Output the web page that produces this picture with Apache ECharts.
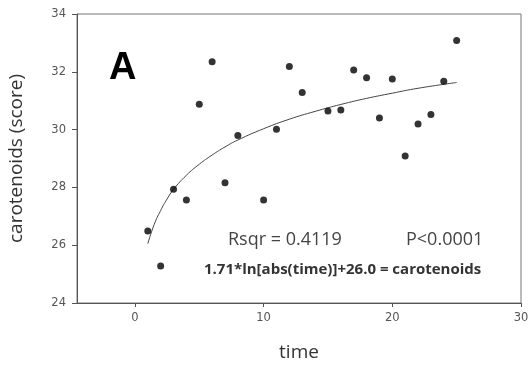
<!DOCTYPE html>
<html>
<head>
<meta charset="utf-8">
<script src="https://cdn.jsdelivr.net/npm/echarts@6/dist/echarts.min.js"></script>
<style>html,body{margin:0;padding:0;background:#fff}#c{width:529px;height:369px}</style>
</head>
<body>
<div id="c"></div>
<script>
// observed data
var times = [1, 2, 3, 4, 5, 6, 7, 8, 10, 11, 12, 13, 15, 16, 17, 18, 19, 20, 21, 22, 23, 24, 25];
var carotenoids = [26.49, 25.28, 27.94, 27.56, 30.88, 32.35, 28.16, 29.80, 27.56, 30.01, 32.18, 31.28, 30.64, 30.68, 32.06, 31.79, 30.40, 31.75, 29.09, 30.19, 30.52, 31.67, 33.08];
// fitted curve
var fitTimes = [1, 1.5, 2, 2.5, 3, 4, 5, 6, 7, 8, 10, 12, 14, 16, 18, 20, 22, 25];
var fitValues = [26.05, 26.72, 27.2, 27.6, 27.93, 28.42, 28.8, 29.12, 29.4, 29.64, 30.03, 30.36, 30.63, 30.87, 31.08, 31.26, 31.43, 31.63];
var xTicks = [0, 10, 20, 30];
var yTicks = [24, 26, 28, 30, 32, 34];

var chart = echarts.init(document.getElementById('c'));
var tickFont = {color: '#555', fontSize: 11.5, fontFamily: 'DejaVu Sans'};
chart.setOption({
  animation: false,
  grid: {left: 77, top: 14, right: 8, bottom: 66, containLabel: false, outerBoundsMode: 'none', show: true, borderColor: '#777', borderWidth: 1},
  xAxis: {
    type: 'value', min: -4.5, max: 30,
    name: 'time', nameLocation: 'middle', nameGap: 40,
    nameTextStyle: {fontSize: 19, color: '#333', fontFamily: 'Open Sans'},
    axisLine: {show: true, onZero: false, lineStyle: {color: '#555'}},
    axisTick: {show: true, length: 4, customValues: xTicks, lineStyle: {color: '#555'}},
    axisLabel: {customValues: xTicks, margin: 9, color: tickFont.color, fontSize: tickFont.fontSize, fontFamily: tickFont.fontFamily},
    splitLine: {show: false}
  },
  yAxis: {
    type: 'value', min: 24, max: 34, interval: 2,
    name: 'carotenoids (score)', nameLocation: 'middle', nameGap: 51,
    nameTextStyle: {fontSize: 19, color: '#333', fontFamily: 'Open Sans'},
    axisLine: {show: true, onZero: false, lineStyle: {color: '#555'}},
    axisTick: {show: true, length: 5, lineStyle: {color: '#555'}},
    axisLabel: {margin: 11, color: tickFont.color, fontSize: tickFont.fontSize, fontFamily: tickFont.fontFamily},
    splitLine: {show: false}
  },
  series: [
    {
      type: 'line', data: fitTimes.map(function (t, i) { return [t, fitValues[i]]; }),
      smooth: true, showSymbol: false, symbol: 'none',
      lineStyle: {color: '#444', width: 1}, z: 2
    },
    {
      type: 'scatter', data: times.map(function (t, i) { return [t, carotenoids[i]]; }),
      symbol: 'circle', symbolSize: 7, itemStyle: {color: '#000'}, z: 3
    }
  ],
  graphic: [
    {type: 'text', left: 109, top: 50, style: {text: 'A', fontSize: 38, fontWeight: 'bold', fontFamily: 'Liberation Sans', fill: '#000'}},
    {type: 'text', left: 228, top: 231, style: {text: 'Rsqr = 0.4119', fontSize: 18, fontFamily: 'Open Sans', fill: '#444'}},
    {type: 'text', left: 406, top: 231, style: {text: 'P<0.0001', fontSize: 18, fontFamily: 'Open Sans', fill: '#444'}},
    {type: 'text', left: 204, top: 262, style: {text: '1.71*ln[abs(time)]+26.0 = carotenoids', fontSize: 15, fontWeight: 'bold', fontFamily: 'Open Sans', fill: '#333'}}
  ]
});
</script>
</body>
</html>
